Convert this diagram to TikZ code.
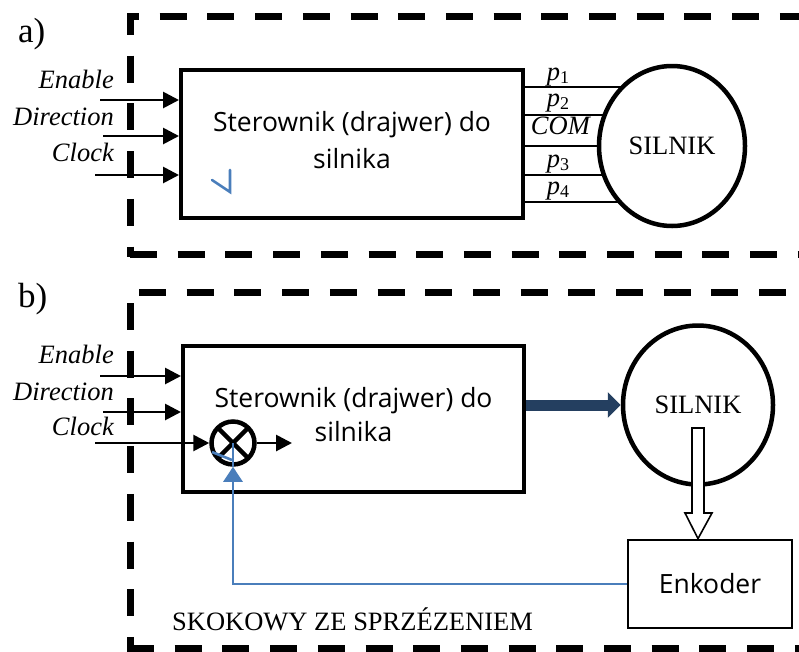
\documentclass[tikz,border=0pt]{standalone}
\usepackage{fontspec}
\setmainfont{Liberation Serif}
\newfontfamily\osans{Open Sans}
\usetikzlibrary{arrows.meta,shapes.geometric,calc}
\definecolor{fbblue}{HTML}{4A7EBB}
\definecolor{navyarrow}{HTML}{243F60}
\newcommand\serfsize{\fontsize{26.5pt}{32pt}\selectfont}
\newcommand\sansfsize{\osans\fontsize{26.5pt}{32pt}\selectfont}
\newcommand\partsize{\fontsize{35pt}{40pt}\selectfont}
\newcommand\psub[1]{\textit{p}\raisebox{-3pt}{\fontsize{18pt}{20pt}\selectfont #1}}
\begin{document}
\begin{tikzpicture}[x=1pt,y=-1pt,
  dashbox/.style={line width=7pt, dash pattern=on 27pt off 20.7pt},
  drvbox/.style={draw, line width=4pt, inner sep=0pt},
  motor/.style={draw, ellipse, line width=4.5pt, fill=white, inner sep=0pt, font=\serfsize, text depth=0pt},
  inarrow/.style={line width=2.8pt, -{Triangle[length=16pt,width=16pt]}},
  wire/.style={line width=2.8pt},
  lbl/.style={font=\serfsize\itshape, anchor=base east, inner sep=0pt},
  plbl/.style={font=\serfsize, anchor=base, inner sep=0pt},
  txt/.style={font=\sansfsize, anchor=base, inner sep=0pt},
  fb/.style={draw=fbblue, line width=2.6pt},
]
\useasboundingbox (0,0) rectangle (799,651);

% ---------------- part a ----------------
\node[font=\partsize, anchor=base west, inner sep=0pt] (pa) at (18,42) {a)};
\draw[dashbox, dash phase=15pt] (127,16.5) -- (810,16.5);
\draw[dashbox, dash phase=5pt] (130,13) -- (130,257);
\draw[dashbox] (130,254) -- (810,254);

\node[drvbox, minimum width=342pt, minimum height=148pt] (drva) at (352,144) {};
\node[txt] (ta1) at (352,131) {Sterownik (drajwer) do};
\node[txt] (ta2) at (352,168) {silnika};
\draw[fb, line cap=round] (212,180) -- (230,192) -- (230,170);

\coordinate (ena) at (100,100);
\coordinate (dira) at (103,136);
\coordinate (clka) at (95,175);
\draw[inarrow] (ena) -- (drva.west |- ena);
\draw[inarrow] (dira) -- (drva.west |- dira);
\draw[inarrow] (clka) -- (drva.west |- clka);
\node[lbl] (lena) at (114,88) {Enable};
\node[lbl] (ldira) at (114,125) {Direction};
\node[lbl] (lclka) at (114,161) {Clock};

\coordinate (mac) at (672,146);
\foreach \yy/\nm in {87/w1,115/w2,146/wc,175/w3,202/w4}{
  \coordinate (\nm) at (0,\yy);
  \draw[wire] (drva.east |- \nm) -- (mac |- \nm);
}
\node[motor, minimum width=146pt, minimum height=160pt] (mota) at (mac) {SILNIK};

\node[plbl] (p1) at (558,80) {\psub{1}};
\node[plbl] (p2) at (558,106) {\psub{2}};
\node[plbl] (pc) at (561,134) {\textit{COM}};
\node[plbl] (p3) at (558,167) {\psub{3}};
\node[plbl] (p4) at (558,194) {\psub{4}};

% ---------------- part b ----------------
\node[font=\partsize, anchor=base west, inner sep=0pt] (pb) at (18,307) {b)};
\draw[dashbox] (139,292) -- (810,292);
\draw[dashbox] (130,303) -- (130,655);
\draw[dashbox] (127,648) -- (810,648);

\node[drvbox, minimum width=341pt, minimum height=146pt] (drvb) at (353.5,419) {};
\node[txt] (tb1) at (353.5,407) {Sterownik (drajwer) do};
\node[txt] (tb2) at (353.5,441) {silnika};

\coordinate (enb) at (100,376);
\coordinate (dirb) at (103,412);
\coordinate (clkb) at (95,443);
\draw[inarrow] (enb) -- (drvb.west |- enb);
\draw[inarrow] (dirb) -- (drvb.west |- dirb);
\node[lbl] (lenb) at (114,363) {Enable};
\node[lbl] (ldirb) at (114,400) {Direction};
\node[lbl] (lclkb) at (114,435) {Clock};

\node[circle, draw, line width=4.5pt, minimum size=43pt, inner sep=0pt] (mul) at (233,443) {};
\draw[line width=4.5pt, shorten <=1.5pt, shorten >=1.5pt] (mul.45) -- (mul.225);
\draw[line width=4.5pt, shorten <=1.5pt, shorten >=1.5pt] (mul.135) -- (mul.315);
\draw[inarrow] (clkb) -- (mul.west);
\coordinate (outb) at (292,443);
\draw[inarrow] (mul.east) -- (outb);

\node[motor, minimum width=150pt, minimum height=159pt] (motb) at (698,405) {SILNIK};
\draw[navyarrow, line width=11pt, -{Triangle[length=13pt,width=25pt]}] (drvb.east |- motb.west) -- (motb.west);

\node[draw, line width=2.8pt, minimum width=164pt, minimum height=88pt, inner sep=0pt, font=\sansfsize] (enk) at (710,584) {Enkoder};

% hollow arrow motor -> encoder
\draw[line width=1.6pt, fill=white, line join=miter]
  ($(motb.center)+(-6,23)$) -- ($(motb.center)+(6,23)$) -- ($(motb.center)+(6,108)$)
  -- ($(motb.center)+(14,108)$) -- (enk.north -| motb.center) -- ($(motb.center)+(-13,108)$)
  -- ($(motb.center)+(-6,108)$) -- cycle;

% feedback
\draw[fb, -{Triangle[length=15pt,width=19pt]}] (enk.west) -- (enk.west -| mul.south) -- (mul.south);
\draw[fb] (mul.center) -- (mul.south);
\draw[fb] ($(mul.center)+(-21,9)$) -- ($(mul.center)+(-1,17)$);

\node[font=\serfsize, anchor=base west, inner sep=0pt] (sk) at (172,630) {SKOKOWY ZE SPRZÉZENIEM};
\end{tikzpicture}
\end{document}
